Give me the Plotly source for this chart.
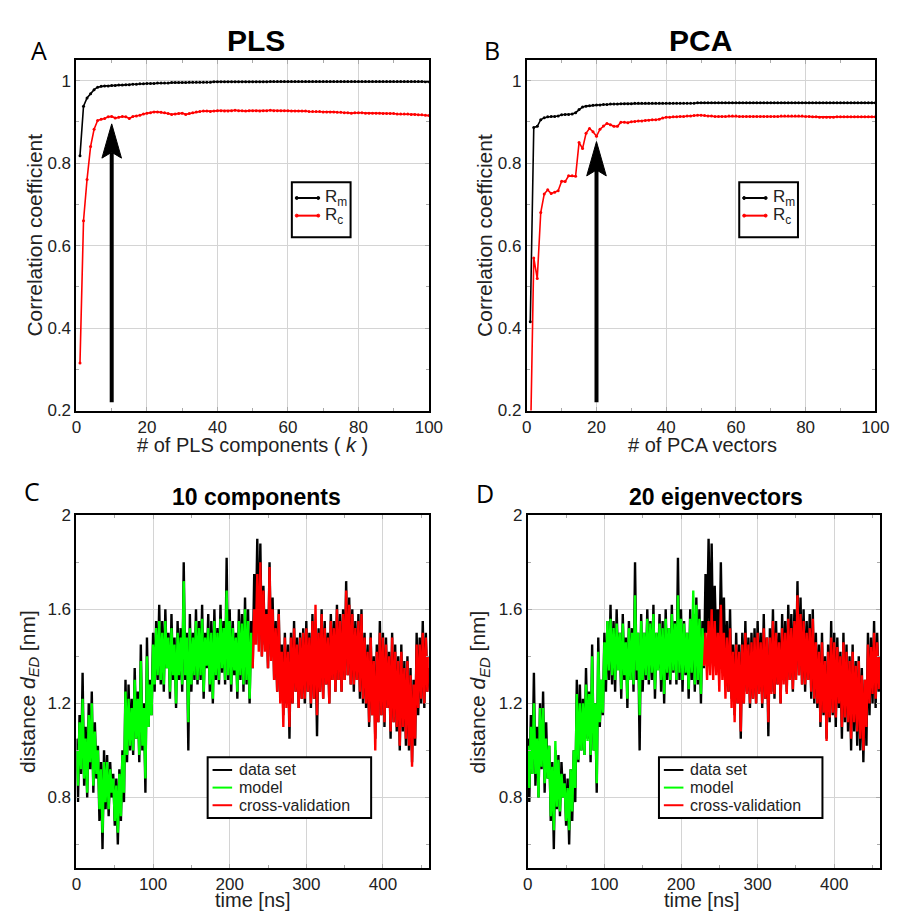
import plotly.graph_objects as go

# ---------------- data: panels A/B (correlation vs number of components) ----------------
pls_rm = [0.818, 0.938, 0.958, 0.968, 0.978, 0.984, 0.986, 0.987, 0.987, 0.988,
          0.988, 0.989, 0.989, 0.990, 0.990, 0.991, 0.991, 0.992, 0.992, 0.993,
          0.993, 0.993, 0.994, 0.994, 0.994, 0.994, 0.995, 0.995, 0.995, 0.995,
          0.995, 0.996, 0.996, 0.996, 0.996, 0.996, 0.996, 0.996, 0.997, 0.997,
          0.997, 0.997, 0.997, 0.997, 0.997, 0.997, 0.997, 0.997, 0.997, 0.997,
          0.997, 0.997, 0.997, 0.997, 0.998, 0.998, 0.998, 0.998, 0.998, 0.998,
          0.998, 0.998, 0.998, 0.998, 0.998, 0.998, 0.998, 0.998, 0.998, 0.998,
          0.998, 0.998, 0.998, 0.998, 0.998, 0.998, 0.998, 0.998, 0.998, 0.998,
          0.998, 0.998, 0.998, 0.998, 0.998, 0.998, 0.998, 0.998, 0.998, 0.998,
          0.998, 0.998, 0.998, 0.998, 0.998, 0.998, 0.998, 0.998, 0.997, 0.997]
pls_rc = [0.315, 0.660, 0.760, 0.840, 0.882, 0.903, 0.906, 0.908, 0.912, 0.913,
          0.909, 0.911, 0.913, 0.912, 0.908, 0.913, 0.914, 0.916, 0.919, 0.921,
          0.922, 0.924, 0.924, 0.923, 0.922, 0.920, 0.918, 0.919, 0.920, 0.921,
          0.918, 0.920, 0.922, 0.924, 0.925, 0.926, 0.926, 0.925, 0.926, 0.927,
          0.927, 0.926, 0.926, 0.927, 0.928, 0.927, 0.927, 0.926, 0.927, 0.927,
          0.927, 0.926, 0.927, 0.927, 0.928, 0.927, 0.927, 0.927, 0.927, 0.927,
          0.926, 0.926, 0.926, 0.926, 0.926, 0.925, 0.925, 0.925, 0.925, 0.924,
          0.924, 0.924, 0.924, 0.923, 0.923, 0.922, 0.922, 0.921, 0.922, 0.922,
          0.922, 0.921, 0.921, 0.921, 0.921, 0.921, 0.920, 0.920, 0.920, 0.920,
          0.919, 0.919, 0.919, 0.919, 0.918, 0.918, 0.917, 0.917, 0.916, 0.915]
pca_rm = [0.415, 0.886, 0.889, 0.905, 0.910, 0.912, 0.913, 0.913, 0.914, 0.917,
          0.918, 0.918, 0.919, 0.922, 0.930, 0.936, 0.938, 0.939, 0.940, 0.941,
          0.941, 0.942, 0.942, 0.943, 0.943, 0.943, 0.944, 0.944, 0.944, 0.944,
          0.945, 0.945, 0.945, 0.945, 0.945, 0.945, 0.945, 0.945, 0.945, 0.945,
          0.945, 0.945, 0.945, 0.945, 0.945, 0.945, 0.945, 0.945, 0.946, 0.946,
          0.946, 0.946, 0.946, 0.946, 0.946, 0.946, 0.946, 0.946, 0.946, 0.946,
          0.946, 0.946, 0.946, 0.946, 0.946, 0.946, 0.946, 0.946, 0.946, 0.946,
          0.946, 0.946, 0.946, 0.946, 0.946, 0.946, 0.946, 0.946, 0.946, 0.946,
          0.946, 0.946, 0.946, 0.946, 0.946, 0.946, 0.946, 0.946, 0.946, 0.946,
          0.946, 0.946, 0.946, 0.946, 0.946, 0.946, 0.946, 0.946, 0.946, 0.946]
pca_rc = [0.100, 0.570, 0.520, 0.680, 0.725, 0.735, 0.726, 0.729, 0.733, 0.756,
          0.755, 0.769, 0.769, 0.768, 0.850, 0.835, 0.872, 0.884, 0.876, 0.865,
          0.882, 0.890, 0.896, 0.893, 0.889, 0.889, 0.899, 0.899, 0.898, 0.900,
          0.901, 0.902, 0.902, 0.903, 0.904, 0.905, 0.905, 0.906, 0.909, 0.911,
          0.911, 0.912, 0.912, 0.913, 0.913, 0.914, 0.914, 0.915, 0.916, 0.916,
          0.915, 0.914, 0.914, 0.913, 0.913, 0.913, 0.913, 0.914, 0.914, 0.914,
          0.913, 0.913, 0.913, 0.913, 0.913, 0.913, 0.913, 0.913, 0.913, 0.913,
          0.913, 0.913, 0.914, 0.914, 0.914, 0.914, 0.914, 0.914, 0.914, 0.913,
          0.913, 0.912, 0.912, 0.911, 0.911, 0.911, 0.911, 0.911, 0.912, 0.912,
          0.912, 0.912, 0.912, 0.912, 0.912, 0.912, 0.912, 0.912, 0.912, 0.912]

# arrows marking the chosen number of components: (k, tip value)
arrow_pls = (10, 0.895)
arrow_pca = (20, 0.852)

# ---------------- data: panels C/D (distance time series, 2 ns sampling) ----------------
data_set = [1.05, 0.78, 1.15, 0.90, 1.33, 0.85, 1.10, 0.80, 1.20, 0.92,
            1.25, 0.82, 1.12, 0.88, 1.02, 0.70, 0.95, 0.58, 1.00, 0.75,
            0.98, 0.72, 0.95, 0.80, 0.90, 0.68, 0.88, 0.60, 0.92, 0.70,
            1.00, 0.78, 1.30, 0.95, 1.28, 1.00, 1.22, 0.98, 1.35, 1.05,
            1.25, 0.95, 1.45, 1.00, 1.20, 0.82, 1.48, 1.10, 1.30, 1.15,
            1.50, 1.25, 1.55, 1.30, 1.62, 1.28, 1.55, 1.25, 1.60, 1.35,
            1.50, 1.22, 1.58, 1.30, 1.48, 1.18, 1.55, 1.30, 1.52, 1.25,
            1.80, 1.30, 1.50, 1.00, 1.58, 1.25, 1.50, 1.30, 1.60, 1.28,
            1.55, 1.30, 1.62, 1.22, 1.50, 1.35, 1.58, 1.25, 1.55, 1.20,
            1.60, 1.30, 1.52, 1.28, 1.62, 1.33, 1.55, 1.28, 1.82, 1.30,
            1.60, 1.25, 1.55, 1.32, 1.50, 1.22, 1.60, 1.30, 1.58, 1.25,
            1.65, 1.28, 1.60, 1.20, 1.55, 1.35, 1.75, 1.50, 1.90, 1.45,
            1.88, 1.40, 1.70, 1.45, 1.60, 1.35, 1.80, 1.40, 1.65, 1.30,
            1.55, 1.25, 1.60, 1.22, 1.45, 1.15, 1.50, 1.20, 1.45, 1.05,
            1.50, 1.20, 1.55, 1.25, 1.48, 1.18, 1.50, 1.22, 1.52, 1.20,
            1.55, 1.25, 1.50, 1.18, 1.58, 1.22, 1.48, 1.06, 1.52, 1.25,
            1.60, 1.22, 1.55, 1.28, 1.50, 1.20, 1.58, 1.30, 1.55, 1.25,
            1.62, 1.30, 1.58, 1.25, 1.60, 1.30, 1.72, 1.32, 1.65, 1.28,
            1.60, 1.25, 1.55, 1.30, 1.58, 1.22, 1.60, 1.20, 1.50, 1.18,
            1.45, 1.10, 1.50, 1.15, 1.40, 1.05, 1.45, 1.12, 1.55, 1.15,
            1.50, 1.10, 1.48, 1.18, 1.42, 1.05, 1.50, 1.12, 1.45, 1.08,
            1.40, 1.00, 1.45, 1.08, 1.38, 1.02, 1.40, 1.00, 1.35, 0.95,
            1.30, 1.02, 1.50, 1.15, 1.48, 1.20, 1.55, 1.18, 1.50, 1.25,
            1.35]

model_c = [1.00, 0.85, 1.12, 0.92, 1.22, 0.88, 1.05, 0.82, 1.15, 0.95,
           1.20, 0.85, 1.08, 0.90, 1.00, 0.75, 0.92, 0.65, 0.95, 0.78,
           0.95, 0.75, 0.92, 0.82, 0.88, 0.70, 0.85, 0.65, 0.90, 0.72,
           0.98, 0.82, 1.25, 0.98, 1.22, 1.02, 1.18, 1.00, 1.30, 1.05,
           1.22, 0.98, 1.38, 1.02, 1.18, 0.88, 1.40, 1.10, 1.28, 1.15,
           1.45, 1.28, 1.52, 1.32, 1.55, 1.30, 1.50, 1.28, 1.55, 1.35,
           1.48, 1.25, 1.52, 1.32, 1.45, 1.20, 1.50, 1.32, 1.48, 1.28,
           1.72, 1.32, 1.48, 1.12, 1.52, 1.28, 1.48, 1.32, 1.55, 1.30,
           1.52, 1.32, 1.56, 1.25, 1.48, 1.36, 1.52, 1.28, 1.50, 1.22,
           1.55, 1.32, 1.50, 1.30, 1.56, 1.35, 1.52, 1.30, 1.68, 1.32,
           1.55, 1.28, 1.52, 1.34, 1.48, 1.25, 1.55, 1.32, 1.54, 1.28,
           1.60, 1.30, 1.55, 1.22, 1.50, 1.35]
cv_c = [1.35, 1.60, 1.45, 1.75, 1.42,
        1.80, 1.40, 1.68, 1.42, 1.58, 1.35, 1.78, 1.38, 1.60, 1.30,
        1.52, 1.25, 1.58, 1.20, 1.42, 1.10, 1.48, 1.18, 1.42, 1.10,
        1.48, 1.20, 1.52, 1.25, 1.45, 1.18, 1.48, 1.22, 1.50, 1.22,
        1.52, 1.25, 1.48, 1.20, 1.55, 1.22, 1.62, 1.15, 1.50, 1.25,
        1.58, 1.22, 1.52, 1.28, 1.48, 1.20, 1.55, 1.30, 1.52, 1.25,
        1.60, 1.30, 1.55, 1.25, 1.58, 1.30, 1.68, 1.32, 1.62, 1.28,
        1.58, 1.28, 1.52, 1.30, 1.55, 1.25, 1.58, 1.22, 1.48, 1.20,
        1.42, 1.12, 1.48, 1.15, 1.38, 1.00, 1.42, 1.12, 1.50, 1.15,
        1.48, 1.12, 1.45, 1.18, 1.40, 1.08, 1.48, 1.12, 1.42, 1.10,
        1.38, 1.02, 1.42, 1.10, 1.35, 1.05, 1.38, 1.02, 1.32, 0.93,
        1.28, 1.05, 1.45, 1.18, 1.45, 1.22, 1.50, 1.20, 1.48, 1.25,
        1.40]

model_d = [1.02, 0.84, 1.10, 0.90, 1.20, 0.90, 1.05, 0.80, 1.18, 0.93,
           1.18, 0.86, 1.05, 0.88, 1.02, 0.72, 0.93, 0.66, 1.04, 0.76,
           0.96, 0.74, 0.90, 0.80, 0.86, 0.70, 0.84, 0.66, 0.92, 0.74,
           1.00, 0.84, 1.24, 0.96, 1.20, 1.00, 1.20, 0.98, 1.28, 1.04,
           1.24, 0.98, 1.40, 1.00, 1.20, 0.86, 1.42, 1.12, 1.30, 1.16,
           1.46, 1.30, 1.55, 1.34, 1.56, 1.32, 1.52, 1.30, 1.54, 1.34,
           1.50, 1.26, 1.54, 1.32, 1.46, 1.22, 1.52, 1.30, 1.50, 1.28,
           1.66, 1.34, 1.50, 1.15, 1.55, 1.30, 1.50, 1.32, 1.56, 1.30,
           1.54, 1.33, 1.58, 1.26, 1.50, 1.34, 1.54, 1.30, 1.52, 1.24,
           1.56, 1.33, 1.52, 1.30, 1.58, 1.34, 1.54, 1.30, 1.66, 1.33,
           1.56, 1.30, 1.54, 1.33, 1.50, 1.26, 1.56, 1.33, 1.68, 1.28,
           1.62, 1.30, 1.56, 1.24, 1.52, 1.36]
cv_d = [1.36, 1.50, 1.30, 1.55, 1.32,
        1.60, 1.30, 1.55, 1.32, 1.50, 1.25, 1.62, 1.30, 1.50, 1.22,
        1.48, 1.25, 1.52, 1.18, 1.42, 1.12, 1.45, 1.20, 1.42, 1.08,
        1.45, 1.20, 1.50, 1.24, 1.45, 1.20, 1.46, 1.22, 1.48, 1.20,
        1.50, 1.24, 1.46, 1.20, 1.52, 1.22, 1.48, 1.12, 1.48, 1.24,
        1.55, 1.24, 1.50, 1.28, 1.46, 1.20, 1.52, 1.28, 1.50, 1.24,
        1.56, 1.30, 1.52, 1.26, 1.55, 1.30, 1.66, 1.32, 1.58, 1.28,
        1.55, 1.28, 1.50, 1.30, 1.52, 1.25, 1.56, 1.22, 1.46, 1.20,
        1.42, 1.12, 1.46, 1.16, 1.38, 1.04, 1.42, 1.14, 1.48, 1.16,
        1.46, 1.14, 1.44, 1.20, 1.40, 1.10, 1.46, 1.14, 1.42, 1.12,
        1.38, 1.05, 1.42, 1.12, 1.36, 1.08, 1.38, 1.05, 1.32, 1.00,
        1.30, 1.10, 1.45, 1.20, 1.44, 1.24, 1.50, 1.22, 1.46, 1.26,
        1.40]

legend_ab = ["R<sub>m</sub>", "R<sub>c</sub>"]
legend_cd = ["data set", "model", "cross-validation"]

k_vals = list(range(1, len(pls_rm) + 1))
t_data = [2 * i for i in range(len(data_set))]
t_model = [2 * i for i in range(len(model_c))]
t_cv = [230 + 2 * i for i in range(len(cv_c))]

FONT = "Liberation Sans, Arial, sans-serif"
W, H = 904, 921
BLACK, RED, GREEN = "black", "#ff0000", "#00ff00"


def px_x(p):
    return p / W


def px_y(p):
    return 1 - p / H


fig = go.Figure()

# Panels A, B
for xa, ya, rm, rc in (("x", "y", pls_rm, pls_rc), ("x2", "y2", pca_rm, pca_rc)):
    fig.add_trace(go.Scatter(x=k_vals, y=rm, mode="lines+markers", name=legend_ab[0], showlegend=False,
                             line=dict(color=BLACK, width=1.6), marker=dict(size=3, color=BLACK),
                             xaxis=xa, yaxis=ya))
    fig.add_trace(go.Scatter(x=k_vals, y=rc, mode="lines+markers", name=legend_ab[1], showlegend=False,
                             line=dict(color=RED, width=1.6), marker=dict(size=3, color=RED),
                             xaxis=xa, yaxis=ya))
# Panels C, D
for xa, ya, mod, cv in (("x3", "y3", model_c, cv_c), ("x4", "y4", model_d, cv_d)):
    fig.add_trace(go.Scatter(x=t_data, y=data_set, mode="lines", name=legend_cd[0], showlegend=False,
                             line=dict(color=BLACK, width=2.4), xaxis=xa, yaxis=ya))
    fig.add_trace(go.Scatter(x=t_model, y=mod, mode="lines", name=legend_cd[1], showlegend=False,
                             line=dict(color=GREEN, width=2.4), xaxis=xa, yaxis=ya))
    fig.add_trace(go.Scatter(x=t_cv, y=cv, mode="lines", name=legend_cd[2], showlegend=False,
                             line=dict(color=RED, width=2.4), xaxis=xa, yaxis=ya))

axis_common = dict(showline=True, linecolor="black", linewidth=2, mirror="allticks",
                   showgrid=True, gridcolor="#d4d4d4", gridwidth=1,
                   ticks="inside", ticklen=4, tickcolor="#aaaaaa", zeroline=False,
                   tickfont=dict(family=FONT, size=17, color="#222222"))

TOP = (52, 410)
BOT = (517, 877)
A_X = (73, 433)
B_X = (533, 889)
C_X = (73, 433)
D_X = (534, 894)
RANGE_K = [0, 100]
RANGE_R = [0.2, 1.05]
RANGE_T = [0, 460]
RANGE_D = [0.5, 2.0]


def minor(d, t0):
    return dict(dtick=d, tick0=t0, ticks="inside", ticklen=3, tickcolor="#aaaaaa", showgrid=False)


def dom_x(p):
    return [px_x(p[0]), px_x(p[1])]


def dom_y(p):
    return [px_y(p[1]), px_y(p[0])]


r_ticks = dict(tickvals=[0.2, 0.4, 0.6, 0.8, 1.0], ticktext=["0.2", "0.4", "0.6", "0.8", "1"])
d_ticks = dict(tickvals=[0.8, 1.2, 1.6, 2.0], ticktext=["0.8", "1.2", "1.6", "2"])

layout_axes = {
    "xaxis": dict(domain=dom_x(A_X), range=RANGE_K, tickvals=[0, 20, 40, 60, 80, 100],
                  minor=minor(10, 0), anchor="y", **axis_common),
    "yaxis": dict(domain=dom_y(TOP), range=RANGE_R, minor=minor(0.1, 0.2), anchor="x", **r_ticks, **axis_common),
    "xaxis2": dict(domain=dom_x(B_X), range=RANGE_K, tickvals=[0, 20, 40, 60, 80, 100],
                   minor=minor(10, 0), anchor="y2", **axis_common),
    "yaxis2": dict(domain=dom_y(TOP), range=RANGE_R, minor=minor(0.1, 0.2), anchor="x2", **r_ticks, **axis_common),
    "xaxis3": dict(domain=dom_x(C_X), range=RANGE_T, tickvals=[0, 100, 200, 300, 400],
                   minor=minor(50, 0), anchor="y3", **axis_common),
    "yaxis3": dict(domain=dom_y(BOT), range=RANGE_D, minor=minor(0.2, 0.6), anchor="x3", **d_ticks, **axis_common),
    "xaxis4": dict(domain=dom_x(D_X), range=RANGE_T, tickvals=[0, 100, 200, 300, 400],
                   minor=minor(50, 0), anchor="y4", **axis_common),
    "yaxis4": dict(domain=dom_y(BOT), range=RANGE_D, minor=minor(0.2, 0.6), anchor="x4", **d_ticks, **axis_common),
}

fig.update_layout(width=W, height=H, margin=dict(l=0, r=0, t=0, b=0),
                  paper_bgcolor="white", plot_bgcolor="white", showlegend=False, **layout_axes)

annotations = []
shapes = []


def paper_text(x, y, text, size, bold=False, angle=0, family=FONT, color="black", xanchor="center"):
    annotations.append(dict(x=px_x(x), y=px_y(y), xref="paper", yref="paper",
                            text=("<b>%s</b>" % text) if bold else text,
                            showarrow=False, textangle=angle, xanchor=xanchor, yanchor="middle",
                            font=dict(family=family, size=size, color=color)))


def legend_box(x0, y0, x1, y1, rows, colors, labels, sx0, sx1, size, dots=False):
    shapes.append(dict(type="rect", xref="paper", yref="paper", x0=px_x(x0), x1=px_x(x1),
                       y0=px_y(y1), y1=px_y(y0), line=dict(color="black", width=2), fillcolor="white",
                       layer="above"))
    for ry, col, lab in zip(rows, colors, labels):
        shapes.append(dict(type="line", xref="paper", yref="paper", x0=px_x(sx0), x1=px_x(sx1),
                           y0=px_y(ry), y1=px_y(ry), line=dict(color=col, width=2), layer="above"))
        if dots:
            for cx in (sx0, sx1):
                shapes.append(dict(type="circle", xref="paper", yref="paper",
                                   x0=px_x(cx - 1.5), x1=px_x(cx + 1.5), y0=px_y(ry + 1.5), y1=px_y(ry - 1.5),
                                   line=dict(color=col, width=1), fillcolor=col, layer="above"))
        paper_text(sx1 + 5, ry, lab, size, color="#222222", xanchor="left")


def arrow(xref, yref, xpx, ypx, xrange_, yrange_, k, tip, base=0.22, head_w=20, head_l=35, notch=6, shaft=4):
    # convert pixel sizes of the arrow head into data units of this panel
    ux = (xrange_[1] - xrange_[0]) / (xpx[1] - xpx[0])
    uy = (yrange_[1] - yrange_[0]) / (ypx[1] - ypx[0])
    hw = head_w / 2 * ux
    hl = head_l * uy
    nt = notch * uy
    shapes.append(dict(type="line", xref=xref, yref=yref, x0=k, x1=k, y0=base, y1=tip - hl + nt,
                       line=dict(color="black", width=shaft), layer="above"))
    path = "M %f,%f L %f,%f L %f,%f L %f,%f Z" % (k, tip, k + hw, tip - hl, k, tip - hl + nt, k - hw, tip - hl)
    shapes.append(dict(type="path", xref=xref, yref=yref, path=path, fillcolor="black",
                       line=dict(color="black", width=1), layer="above"))


# arrows
arrow("x", "y", A_X, TOP, RANGE_K, RANGE_R, *arrow_pls)
arrow("x2", "y2", B_X, TOP, RANGE_K, RANGE_R, *arrow_pca)

# legends
legend_box(293, 177, 353, 233, [193, 211], [BLACK, RED], legend_ab, 298, 320, 17, dots=True)
legend_box(750, 177, 810, 233, [193, 211], [BLACK, RED], legend_ab, 755, 777, 17, dots=True)
legend_box(207, 764, 374, 826, [777, 795, 813], [BLACK, GREEN, RED], legend_cd, 212, 232, 16)
legend_box(668, 764, 835, 826, [777, 795, 813], [BLACK, GREEN, RED], legend_cd, 673, 693, 16)

# panel titles
paper_text(256, 32, "PLS", 30, bold=True)
paper_text(710, 32, "PCA", 30, bold=True)
paper_text(257, 498, "10 components", 23, bold=True)
paper_text(726, 498, "20 eigenvectors", 23, bold=True)
# panel letters
LET = "Open Sans, sans-serif"
paper_text(35, 42, "A", 25, family=LET)
paper_text(497, 42, "B", 25, family=LET)
paper_text(28, 492, "C", 25, family=LET)
paper_text(490, 494, "D", 25, family=LET)
# axis titles
paper_text(253, 445, "# of PLS components ( <i>k</i> )", 20, color="#222222")
paper_text(712, 445, "# of PCA vectors", 20, color="#222222")
paper_text(253, 910, "time [ns]", 20, color="#222222")
paper_text(712, 910, "time [ns]", 20, color="#222222")
paper_text(30, 231, "Correlation coefficient", 21, angle=-90, color="#222222")
paper_text(490, 231, "Correlation coefficient", 21, angle=-90, color="#222222")
paper_text(24, 697, "distance <i>d</i><sub><i>ED</i></sub> [nm]", 21, angle=-90, color="#222222")
paper_text(484, 697, "distance <i>d</i><sub><i>ED</i></sub> [nm]", 21, angle=-90, color="#222222")

fig.update_layout(annotations=annotations, shapes=shapes)

fig.write_html("out.html", config={"displayModeBar": False},
               post_script="document.body.style.margin='0';")
